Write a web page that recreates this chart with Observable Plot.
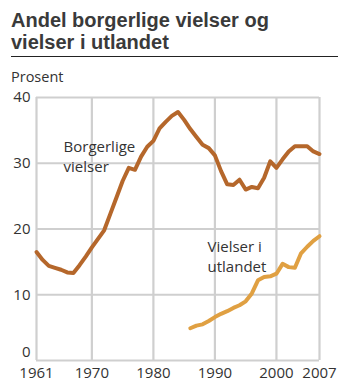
<!DOCTYPE html>
<html>
<head>
<meta charset="utf-8">
<script src="https://cdn.jsdelivr.net/npm/d3@7"></script>
<script src="https://cdn.jsdelivr.net/npm/@observablehq/plot@0.6"></script>
<style>
  html, body { margin: 0; padding: 0; background: #fff; }
  #wrap { position: relative; width: 353px; height: 387px; font-family: "Open Sans", sans-serif; color: #333; }
  .title { position: absolute; left: 11px; font-family: "Liberation Sans", Arial, sans-serif; font-weight: bold; font-size: 20px; line-height: 22px; color: #3a3a3a; white-space: nowrap; }
  #t1 { top: 9px; }
  #t2 { top: 31px; }
  #rule { position: absolute; left: 11px; top: 56px; width: 327px; height: 0; border-top: 1.5px solid #222; }
  #unit { position: absolute; left: 11px; top: 68px; font-size: 14.5px; line-height: 18px; color: #333; }
  #chart { position: absolute; left: 0; top: 86px; }
</style>
</head>
<body>
<div id="wrap">
  <div class="title" id="t1">Andel borgerlige vielser og</div>
  <div class="title" id="t2">vielser i utlandet</div>
  <div id="rule"></div>
  <div id="unit">Prosent</div>
  <div id="chart"></div>
</div>
<script>
const yearsCivil = [1961,1962,1963,1964,1965,1966,1967,1968,1969,1970,1971,1972,1973,1974,1975,1976,1977,1978,1979,1980,1981,1982,1983,1984,1985,1986,1987,1988,1989,1990,1991,1992,1993,1994,1995,1996,1997,1998,1999,2000,2001,2002,2003,2004,2005,2006,2007];
const civil = [16.5,15.3,14.4,14.1,13.8,13.4,13.3,14.5,15.8,17.2,18.5,19.8,22.3,24.8,27.3,29.3,29.0,31.0,32.5,33.4,35.3,36.3,37.2,37.8,36.6,35.2,34.0,32.8,32.3,31.2,28.8,26.8,26.7,27.5,26.0,26.4,26.2,27.8,30.3,29.3,30.6,31.8,32.6,32.6,32.6,31.8,31.4];
const yearsAbroad = [1986,1987,1988,1989,1990,1991,1992,1993,1994,1995,1996,1997,1998,1999,2000,2001,2002,2003,2004,2005,2006,2007];
const abroad = [4.9,5.3,5.5,6.0,6.6,7.1,7.5,8.0,8.4,9.0,10.2,12.2,12.7,12.8,13.2,14.7,14.2,14.1,16.3,17.3,18.2,18.9];
const xTicks = [1961,1970,1980,1990,2000,2007];
const yTicks = [0,10,20,30,40];
const seriesLabels = ["Borgerlige\nvielser", "Vielser i\nutlandet"];

const civilData = yearsCivil.map((y, i) => ({year: y, value: civil[i]}));
const abroadData = yearsAbroad.map((y, i) => ({year: y, value: abroad[i]}));

const chart = Plot.plot({
  width: 353,
  height: 301,
  marginLeft: 36,
  marginRight: 34,
  marginTop: 11,
  marginBottom: 27,
  style: {fontFamily: "'Open Sans', sans-serif", fontSize: "15px", color: "#333", background: "transparent"},
  x: {domain: [1961, 2007], label: null},
  y: {domain: [0, 40], label: null},
  marks: [
    Plot.ruleX(xTicks, {stroke: "#cfcfcf", strokeWidth: 2.2}),
    Plot.ruleY(yTicks, {stroke: "#cfcfcf", strokeWidth: 2.2}),
    Plot.line(civilData, {x: "year", y: "value", stroke: "#b5672b", strokeWidth: 4, strokeLinejoin: "round", strokeLinecap: "round"}),
    Plot.line(abroadData, {x: "year", y: "value", stroke: "#e0a042", strokeWidth: 4, strokeLinejoin: "round", strokeLinecap: "round"}),
    Plot.text([seriesLabels[0]], {x: 1965.4, y: 31.2, text: d => d, textAnchor: "start", lineHeight: 1.35, fill: "#333", fontSize: 15}),
    Plot.text([seriesLabels[1]], {x: 1988.8, y: 16.0, text: d => d, textAnchor: "start", lineHeight: 1.35, fill: "#333", fontSize: 15}),
    Plot.axisX({ticks: xTicks, tickFormat: d => String(d), tickSize: 0, tickPadding: 7, fontSize: 15, fill: "#333"}),
    Plot.axisY({ticks: yTicks.filter(t => t > 0), tickSize: 0, tickPadding: 6, fontSize: 15, fill: "#333"}),
    Plot.axisY({ticks: yTicks.filter(t => t === 0), tickSize: 0, tickPadding: 6, fontSize: 15, fill: "#333", dy: -8})
  ]
});
document.getElementById("chart").appendChild(chart);
</script>
</body>
</html>
